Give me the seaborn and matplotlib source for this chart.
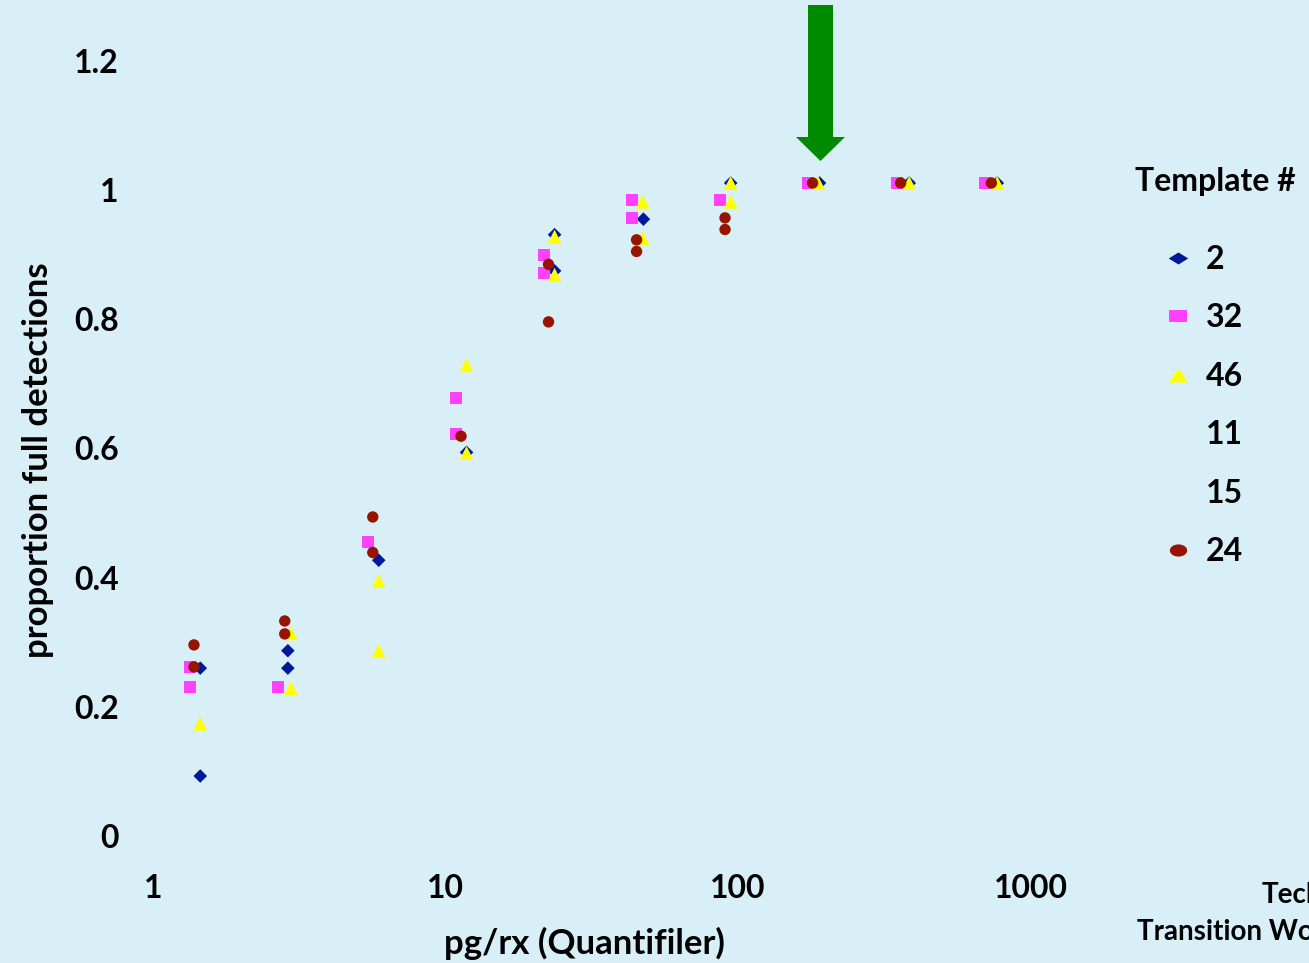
import numpy as np
import pandas as pd
import matplotlib
matplotlib.use("Agg")
import matplotlib.pyplot as plt
import seaborn as sns
from matplotlib.lines import Line2D
from matplotlib.path import Path
from matplotlib.patches import FancyArrow
import matplotlib.transforms as mtransforms

# ---------------- data ----------------
templates = ["2", "32", "46", "11", "15", "24"]

t2_x = [1.45, 1.45, 2.89, 2.89, 5.91, 11.8, 23.6, 23.6, 47.5, 94.4, 190, 385, 770]
t2_y = [0.249, 0.082, 0.276, 0.249, 0.416, 0.583, 0.920, 0.864, 0.944, 1.0, 1.0, 1.0, 1.0]

t32_x = [1.34, 1.34, 2.68, 5.43, 10.9, 10.9, 21.7, 21.7, 43.4, 43.4, 86.7, 173, 349, 697]
t32_y = [0.251, 0.220, 0.220, 0.445, 0.667, 0.612, 0.888, 0.861, 0.973, 0.946, 0.973, 1.0, 1.0, 1.0]

t46_x = [1.45, 2.96, 2.96, 5.91, 5.91, 11.8, 11.8, 23.6, 23.6, 47.2, 47.2, 94.4, 94.4, 188, 385, 770]
t46_y = [0.163, 0.303, 0.218, 0.384, 0.276, 0.718, 0.582, 0.917, 0.858, 0.971, 0.915, 1.0, 0.971, 1.0, 1.0, 1.0]

t11_x, t11_y = [], []
t15_x, t15_y = [], []

t24_x = [1.38, 1.38, 2.82, 2.82, 5.64, 5.64, 11.3, 22.5, 22.5, 45.0, 45.0, 90.3, 90.3, 180, 360, 735]
t24_y = [0.285, 0.251, 0.322, 0.302, 0.483, 0.428, 0.608, 0.874, 0.785, 0.912, 0.894, 0.946, 0.928, 1.0, 1.0, 1.0]

x_ticks = [1, 10, 100, 1000]
x_tick_labels = ["1", "10", "100", "1000"]
y_ticks = [0, 0.2, 0.4, 0.6, 0.8, 1.0, 1.2]
y_tick_labels = ["0", "0.2", "0.4", "0.6", "0.8", "1", "1.2"]

# ---------------- style ----------------
BG = "#d8eff7"
colors = {"2": "#00189a", "32": "#ff40ff", "46": "#ffff00", "11": BG, "15": BG, "24": "#991400"}
markers = {"2": "D", "32": "s", "46": "^", "11": "o", "15": "o", "24": "o"}
sizes = {"2": 48, "32": 75, "46": 100, "11": 60, "15": 60, "24": 67}

plt.rcParams["font.family"] = ["Lato", "DejaVu Sans"]
plt.rcParams["font.weight"] = "bold"

rows = []
for t, xs, ys in [("2", t2_x, t2_y), ("32", t32_x, t32_y), ("46", t46_x, t46_y),
                  ("11", t11_x, t11_y), ("15", t15_x, t15_y), ("24", t24_x, t24_y)]:
    for xv, yv in zip(xs, ys):
        rows.append({"pg": xv, "prop": yv, "template": t})
df = pd.DataFrame(rows)
present = [t for t in templates if t in set(df["template"])]

W, H = 1309, 963
fig = plt.figure(figsize=(W / 100, H / 100), dpi=100, facecolor=BG)
L, R, T, B = 130, 1100, 30, 860
ax = fig.add_axes([L / W, (H - B) / H, (R - L) / W, (B - T) / H])
ax.set_facecolor(BG)

sns.scatterplot(data=df, x="pg", y="prop", hue="template", style="template", size="template",
                hue_order=present, style_order=present, size_order=present,
                palette={k: colors[k] for k in present},
                markers={k: markers[k] for k in present},
                sizes={k: sizes[k] for k in present},
                linewidth=0, legend=False, ax=ax)

ax.set_xscale("log")
ax.set_xlim(0.834, 1729)
ax.set_ylim(-0.048, 1.2368)
ax.set_xticks(x_ticks)
ax.set_xticklabels(x_tick_labels)
ax.minorticks_off()
ax.set_yticks(y_ticks)
ax.set_yticklabels(y_tick_labels)
ax.tick_params(axis="both", length=0, labelsize=23)
ax.tick_params(axis="y", pad=8)
ax.tick_params(axis="x", pad=10)
for lab in ax.get_yticklabels():
    lab.set_fontweight("bold")
    lab.set_transform(lab.get_transform() + mtransforms.ScaledTranslation(0, -0.07, fig.dpi_scale_trans))
for lab in ax.get_xticklabels():
    lab.set_fontweight("bold")
for s in ax.spines.values():
    s.set_visible(False)
ax.grid(False)

ax.set_xlabel("pg/rx (Quantifiler)", fontsize=25, fontweight="bold")
ax.xaxis.set_label_coords(0.469, -0.081)
ax.set_ylabel("proportion full detections", fontsize=25, fontweight="bold")
ax.yaxis.set_label_coords(-0.078, 0.482)

# ---------------- legend ----------------
def shape(verts):
    return Path(verts + [verts[0]], closed=True)

th = np.linspace(0, 2 * np.pi, 40)
leg_markers = {
    "2": shape([(-1, 0), (0, 0.62), (1, 0), (0, -0.62)]),
    "32": shape([(-1, -0.7), (1, -0.7), (1, 0.7), (-1, 0.7)]),
    "46": shape([(-1, -0.72), (0, 0.72), (1, -0.72)]),
    "11": "None",
    "15": "None",
    "24": Path(np.column_stack([np.cos(th), 0.7 * np.sin(th)])),
}
leg_ms = {"2": 14, "32": 12.5, "46": 14, "11": 10, "15": 10, "24": 12.5}
handles = [Line2D([], [], linestyle="None", marker=leg_markers[t], markersize=leg_ms[t],
                  markerfacecolor=colors[t], markeredgewidth=0) for t in templates]
fig.text(1135 / W, 1 - 181 / H, "Template #", fontsize=23, fontweight="bold", ha="left", va="center")
leg = fig.legend(handles, templates, loc="upper left", bbox_to_anchor=(1162 / W, 1 - 245 / H),
                 frameon=False, fontsize=23, handlelength=1.0, handletextpad=0.36,
                 labelspacing=0.92, borderpad=0, borderaxespad=0)
for txt in leg.get_texts():
    txt.set_fontweight("bold")

# footer text (cut off at figure edge, as in the source slide)
fig.text(1262 / W, 1 - 903 / H, "Technology", fontsize=20, fontweight="bold", ha="left", va="baseline")
fig.text(1137 / W, 1 - 940 / H, "Transition Workshop", fontsize=20, fontweight="bold", ha="left", va="baseline")

# green arrow pointing to the plateau
arrow = FancyArrow(820.5 / 100, (H - 5) / 100, 0, -(161 - 5) / 100, width=25 / 100,
                   head_width=49 / 100, head_length=24 / 100, length_includes_head=True,
                   color="#008a00", linewidth=0, transform=fig.dpi_scale_trans)
fig.add_artist(arrow)

fig.savefig("out.png", dpi=100, facecolor=BG)
